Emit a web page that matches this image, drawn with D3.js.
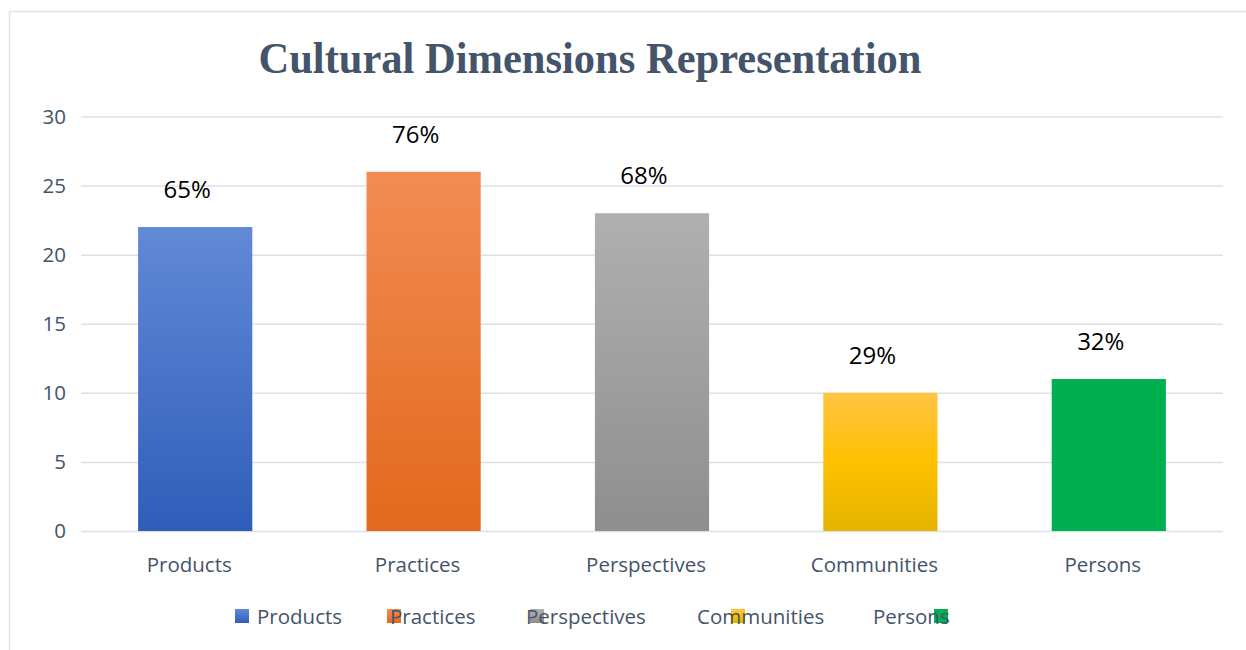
<!DOCTYPE html>
<html>
<head>
<meta charset="utf-8">
<script src="https://cdn.jsdelivr.net/npm/d3@7"></script>
<style>
  body { margin: 0; background: #fff; }
  svg { display: block; }
</style>
</head>
<body>
<div id="wrapper"></div>
<script>
// data
const categories = ["Products", "Practices", "Perspectives", "Communities", "Persons"];
const counts = [22, 26, 23, 10, 11];
const percentLabels = ["65%", "76%", "68%", "29%", "32%"];
const yTicks = [0, 5, 10, 15, 20, 25, 30];
const barColors = [
  ["#6189d6", "#2f5db9"],
  ["#f28c54", "#e2691c"],
  ["#b0b0b0", "#8e8e8e"],
  ["#ffc444", "#e3b400"],
  ["#00b050", "#00b050"]
];

function drawChart() {
  const width = 1246, height = 650;
  const margin = { top: 116.5, right: 23, bottom: 119, left: 81 };
  const boundedWidth = width - margin.left - margin.right;
  const boundedHeight = height - margin.top - margin.bottom;
  const labelFont = "Open Sans, sans-serif";

  const svg = d3.select("#wrapper").append("svg")
    .attr("width", width)
    .attr("height", height);

  // gradients for the bars
  const defs = svg.append("defs");
  barColors.forEach((c, i) => {
    const g = defs.append("linearGradient")
      .attr("id", "grad" + i)
      .attr("x1", 0).attr("y1", 0).attr("x2", 0).attr("y2", 1);
    g.append("stop").attr("offset", "0%").attr("stop-color", c[0]);
    if (i === 3) g.append("stop").attr("offset", "50%").attr("stop-color", "#ffc000");
    g.append("stop").attr("offset", "100%").attr("stop-color", c[1]);
  });

  // outer frame (only top and left edges show)
  svg.append("path")
    .attr("d", `M9.5,${height} V11.5 H${width}`)
    .attr("fill", "none")
    .attr("stroke", "#dfe3ea")
    .attr("stroke-width", 1.5);

  svg.append("text")
    .attr("x", 590)
    .attr("y", 73)
    .attr("text-anchor", "middle")
    .attr("font-family", "Liberation Serif, Times New Roman, serif")
    .attr("font-weight", "bold")
    .attr("font-size", 44)
    .attr("textLength", 663)
    .attr("lengthAdjust", "spacingAndGlyphs")
    .attr("fill", "#44546a")
    .text("Cultural Dimensions Representation");

  const bounds = svg.append("g")
    .attr("transform", `translate(${margin.left},${margin.top})`);

  const xScale = d3.scaleBand()
    .domain(categories)
    .range([0, boundedWidth])
    .paddingInner(0.5)
    .paddingOuter(0.25);

  const yScale = d3.scaleLinear()
    .domain([0, 30])
    .range([boundedHeight, 0]);

  // gridlines + y labels
  const yAxis = bounds.append("g")
    .call(d3.axisLeft(yScale).tickValues(yTicks).tickSize(-boundedWidth).tickPadding(15));
  yAxis.select(".domain").remove();
  yAxis.selectAll(".tick line").attr("stroke", "#dce0e8").attr("stroke-width", 1.5);
  yAxis.selectAll(".tick text")
    .attr("font-family", labelFont)
    .attr("font-size", 20.5)
    .attr("fill", "#44546a");

  // bars
  bounds.selectAll("rect.bar")
    .data(categories)
    .join("rect")
    .attr("class", "bar")
    .attr("x", d => xScale(d))
    .attr("width", xScale.bandwidth())
    .attr("y", (d, i) => yScale(counts[i]))
    .attr("height", (d, i) => boundedHeight - yScale(counts[i]))
    .attr("fill", (d, i) => `url(#grad${i})`);

  // percentage labels
  bounds.selectAll("text.pct")
    .data(categories)
    .join("text")
    .attr("class", "pct")
    .attr("x", d => xScale(d) + xScale.bandwidth() / 2 - 8)
    .attr("y", (d, i) => yScale(counts[i]) - 29)
    .attr("text-anchor", "middle")
    .attr("font-family", labelFont)
    .attr("font-size", 24)
    .attr("fill", "#000")
    .text((d, i) => percentLabels[i]);

  // x axis labels
  const xAxis = bounds.append("g")
    .attr("transform", `translate(0,${boundedHeight})`)
    .call(d3.axisBottom(xScale).tickSize(0).tickPadding(26));
  xAxis.select(".domain").remove();
  xAxis.selectAll(".tick text")
    .attr("dx", -6)
    .attr("font-family", labelFont)
    .attr("font-size", 20.5)
    .attr("fill", "#44546a");

  // legend (swatches sit under the text, as in the source)
  const legendText = [257, 390, 526, 697, 873];
  const legendSwatch = [235, 387, 530, 731, 934];
  const legend = svg.append("g");
  legend.selectAll("rect")
    .data(categories)
    .join("rect")
    .attr("x", (d, i) => legendSwatch[i])
    .attr("y", 609)
    .attr("width", 14)
    .attr("height", 14)
    .attr("fill", (d, i) => `url(#grad${i})`);
  legend.selectAll("text")
    .data(categories)
    .join("text")
    .attr("x", (d, i) => legendText[i])
    .attr("y", 624)
    .attr("font-family", labelFont)
    .attr("font-size", 20.5)
    .attr("fill", "#44546a")
    .text(d => d);
}
drawChart();
</script>
</body>
</html>
